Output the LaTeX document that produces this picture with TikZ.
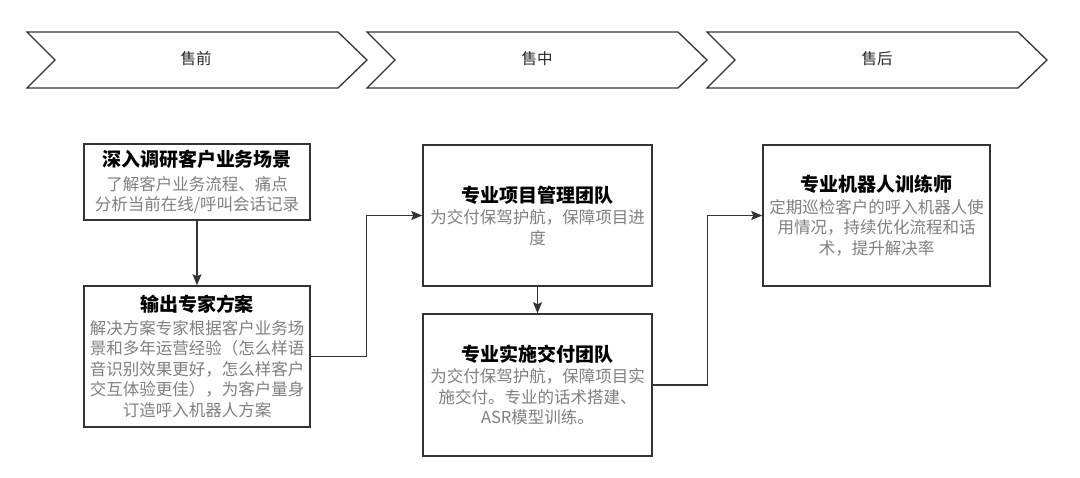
\documentclass[tikz,border=0pt]{standalone}
\usepackage{fontspec}
\setmainfont{Noto Sans CJK SC}
\usetikzlibrary{arrows.meta,calc}
\definecolor{edge}{HTML}{333333}
\definecolor{bodygray}{HTML}{808080}
\newcommand{\ttl}{\fontsize{19}{21}\selectfont\bfseries\color{black}}
\tikzset{
  box/.style={draw=edge, line width=1.5pt, fill=white, align=center, inner sep=0pt,
    font=\fontsize{16.5}{20.5}\selectfont, text=bodygray},
  chev/.style={draw=edge, line width=1.3pt, line join=miter},
  conn/.style={draw=edge, line width=1.4pt, -{Stealth[length=11pt,width=9pt,inset=2pt]}, color=edge},
  lab/.style={font=\fontsize{15.5}{18}\selectfont, text=black!85}
}
\begin{document}
\begin{tikzpicture}[x=1pt,y=-1pt]
\useasboundingbox (0,0) rectangle (1080,478);
% chevrons
\draw[chev] (27,32) -- (338,32) -- (367,60) -- (338,88) -- (27,88) -- (55,60) -- cycle;
\draw[chev] (367,32) -- (678,32) -- (707,60) -- (678,88) -- (367,88) -- (395,60) -- cycle;
\draw[chev] (707,32) -- (1018,32) -- (1047,60) -- (1018,88) -- (707,88) -- (735,60) -- cycle;
\node[lab] (c1) at (196,59) {售前};
\node[lab] (c2) at (537,59) {售中};
\node[lab] (c3) at (877,59) {售后};
% boxes
\node[box, minimum width=226pt, minimum height=76pt] (b1) at (197,182)
  {{\ttl 深入调研客户业务场景}\\[3pt] 了解客户业务流程、痛点\\ 分析当前在线/呼叫会话记录};
\node[box, minimum width=226pt, minimum height=141pt] (b2) at (197,356.5)
  {{\ttl 输出专家方案}\\[2pt] 解决方案专家根据客户业务场\\ 景和多年运营经验（怎么样语\\ 音识别效果更好，怎么样客户\\ 交互体验更佳），为客户量身\\ 订造呼入机器人方案};
\node[box, minimum width=229pt, minimum height=141pt] (b3) at (537.5,215.5)
  {{\ttl 专业项目管理团队}\\[1pt] 为交付保驾护航，保障项目进\\ 度};
\node[box, minimum width=229pt, minimum height=142pt] (b4) at (537.5,385)
  {{\ttl 专业实施交付团队}\\[1pt] 为交付保驾护航，保障项目实\\ 施交付。专业的话术搭建、\\ ASR模型训练。};
\node[box, minimum width=227pt, minimum height=141pt] (b5) at (876.5,215.5)
  {{\ttl 专业机器人训练师}\\[1pt] 定期巡检客户的呼入机器人使\\ 用情况，持续优化流程和话\\ 术，提升解决率};
% connectors
\draw[conn] (b1) -- (b2);
\coordinate (m1) at ($(b2.east)!0.5!(b3.west)$);
\draw[conn] (b2.east) -| (m1) |- (b3.west);
\draw[conn] (b3) -- (b4);
\coordinate (m2) at ($(b4.east)!0.5!(b5.west)$);
\draw[conn] (b4.east) -| (m2) |- (b5.west);
\end{tikzpicture}
\end{document}
